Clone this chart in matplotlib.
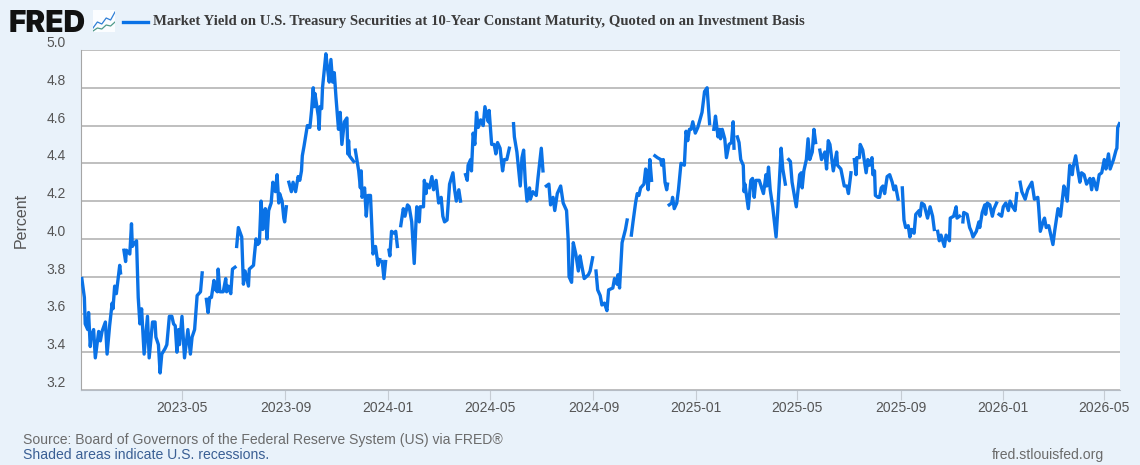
import numpy as np
import pandas as pd
import matplotlib
matplotlib.use("Agg")
from matplotlib import pyplot as plt
import matplotlib.dates as mdates

nan = float("nan")

# days since 2023-01-01, one line per unbroken stretch of the series
days_2023 = [
    1, 4, 5, 8, 9, 11, 12, 15, 17, 21, 23, 25, 29, 31, 34, 37, 38, 40, 42, 46, 47, nan,
    51, 53, 54, 58, 60, 61, 64, 66, 68, 70, 72, 75, 79, 81, 85, 88, 89, 92, 94, 96, 100, 102, 105, 108, 110, 112, 114, 116, 117, 120, 123, 127, 130, 132, 135, 138, 142, 144, nan,
    149, 151, 153, 155, 158, 160, 162, 163, 165, 169, 172, 173, 175, 178, 180, 183, nan,
    185, 187, 191, 193, 195, 199, 200, 205, 206, 208, 210, 212, 214, 216, 217, 219, 221, 223, 226, 228, 231, 233, 235, 236, 239, 241, 242, 244, nan,
    247, 250, 252, 255, 258, 260, 262, 263, 265, 269, 272, 274, 276, 277, 278, 282, 283, 284, 286, 287, 291, 293, 295, 297, 299, 301, 303, 306, 308, 310, 313, 316, 317, 318, 319, 324, nan,
    326, 330, 332, 333, 334, 337, 339, 341, 344, 347, 350, 353, 355, nan,
    358, 360, 362, nan,
]
yields_2023 = [
    3.79, 3.69, 3.55, 3.52, 3.61, 3.43, 3.48, 3.52, 3.37, 3.51, 3.46, 3.51, 3.56, 3.39, 3.54, 3.66, 3.63, 3.75, 3.71, 3.86, 3.82, nan,
    3.94, 3.88, 3.94, 3.92, 4.08, 3.96, 3.98, 3.99, 3.69, 3.55, 3.63, 3.39, 3.59, 3.37, 3.56, 3.56, 3.48, 3.44, 3.29, 3.39, 3.42, 3.44, 3.59, 3.59, 3.55, 3.54, 3.40, 3.52, 3.44, 3.59, 3.37, 3.52, 3.39, 3.48, 3.52, 3.70, 3.72, 3.82, nan,
    3.68, 3.61, 3.69, 3.69, 3.78, 3.73, 3.72, 3.84, 3.72, 3.72, 3.79, 3.72, 3.75, 3.71, 3.84, 3.85, nan,
    3.96, 4.06, 4.01, 3.76, 3.83, 3.75, 3.84, 3.86, 3.91, 4.00, 3.97, 3.98, 4.20, 4.05, 4.08, 4.16, 4.00, 4.15, 4.19, 4.30, 4.25, 4.34, 4.19, 4.24, 4.20, 4.11, 4.09, 4.17, nan,
    4.30, 4.25, 4.30, 4.25, 4.33, 4.31, 4.36, 4.44, 4.49, 4.60, 4.59, 4.68, 4.80, 4.70, 4.77, 4.65, 4.58, 4.70, 4.69, 4.80, 4.98, 4.90, 4.83, 4.95, 4.83, 4.88, 4.75, 4.58, 4.67, 4.50, 4.62, 4.64, 4.45, 4.52, 4.44, 4.41, nan,
    4.47, 4.36, 4.27, 4.36, 4.22, 4.27, 4.12, 4.23, 4.23, 3.92, 3.96, 3.86, 3.89, nan,
    3.88, 3.79, 3.88, nan,
]

days_2024 = [
    366, 367, 369, 372, 374, 376, nan,
    380, 383, 385, 388, 390, 393, 396, 398, 399, 402, 403, 407, 408, 410, 411, 414, 417, 419, 422, 425, 428, 430, 432, 435, 438, 442, 444, 446, 449, 451, nan,
    457, 459, 460, 463, 464, 466, 468, 470, 472, 475, 478, 480, 484, 485, 488, 491, 493, 495, 498, 501, 503, 506, 509, nan,
    514, 515, 518, 522, 524, 526, 528, 530, 533, 534, 537, 541, 543, 547, 549, nan,
    553, 556, 558, 561, 563, 566, 570, 573, 577, 579, 580, 583, 585, 588, 591, 593, 595, 598, 603, 605, 608, nan,
    612, 614, 617, 619, 622, 625, 627, 632, 634, 637, 638, 640, 643, 647, 649, nan,
    654, 656, 659, 661, 663, 665, 669, 671, 672, 674, 676, 678, nan,
    682, 685, 689, 690, 692, 694, 696, 697, nan,
    699, 702, 703, 705, 708, 710, 713, 717, 719, 721, 723, 725, 727, 730,
]
yields_2024 = [
    3.94, 3.91, 4.04, 4.03, 4.04, 3.96, nan,
    4.07, 4.16, 4.12, 4.18, 4.17, 4.09, 3.87, 4.08, 4.17, 4.09, 4.17, 4.17, 4.31, 4.24, 4.29, 4.27, 4.33, 4.26, 4.31, 4.19, 4.22, 4.12, 4.09, 4.10, 4.29, 4.35, 4.26, 4.20, 4.26, 4.20, nan,
    4.34, 4.31, 4.39, 4.42, 4.36, 4.56, 4.50, 4.67, 4.59, 4.63, 4.60, 4.70, 4.62, 4.68, 4.50, 4.50, 4.45, 4.51, 4.48, 4.36, 4.42, 4.42, 4.48, nan,
    4.61, 4.54, 4.46, 4.28, 4.43, 4.47, 4.30, 4.20, 4.27, 4.21, 4.25, 4.23, 4.32, 4.48, 4.36, nan,
    4.28, 4.29, 4.18, 4.22, 4.15, 4.24, 4.28, 4.19, 4.15, 3.99, 3.80, 3.77, 3.98, 3.92, 3.83, 3.91, 3.86, 3.79, 3.81, 3.83, 3.90, nan,
    3.83, 3.73, 3.70, 3.65, 3.66, 3.62, 3.73, 3.74, 3.79, 3.76, 3.81, 3.74, 3.98, 4.05, 4.10, nan,
    4.02, 4.09, 4.19, 4.24, 4.23, 4.27, 4.29, 4.37, 4.35, 4.26, 4.42, 4.31, nan,
    4.44, 4.43, 4.42, 4.39, 4.42, 4.30, 4.26, 4.29, nan,
    4.18, 4.19, 4.22, 4.16, 4.19, 4.26, 4.40, 4.39, 4.57, 4.52, 4.58, 4.58, 4.62, 4.56,
]

days_2025 = [
    733, 738, 741, 744, 747, nan,
    752, 754, 757, 759, 760, 762, 765, 767, 770, 773, 775, 776, nan,
    780, 782, 784, 787, 788, 789, 793, 796, 798, 800, 802, 806, 811, 814, 815, 817, 819, 822, 826, 828, 832, 834, 837, nan,
    841, 843, 845, 850, 854, 856, 857, 859, 862, 864, 866, 869, 871, 873, nan,
    878, 880, 884, 886, 888, 890, 894, 898, 899, 903, 907, 910, 912, 915, nan,
    919, 921, 922, 925, 926, 929, 933, 935, 937, 940, 941, 943, 944, 947, 949, 951, 953, 955, 958, 961, 964, 966, 968, 971, nan,
    976, 978, 980, 983, 985, 987, 990, 992, 996, 997, 999, 1002, 1006, 1009, 1012, 1014, nan,
    1018, 1020, 1022, 1026, 1028, 1032, 1033, 1037, 1040, 1041, 1044, nan,
    1048, 1049, 1053, 1056, 1058, 1060, 1064, 1067, 1068, 1071, 1074, 1075, 1077, 1080, 1083, 1085, 1088, nan,
    1091, 1094,
]
yields_2025 = [
    4.59, 4.67, 4.78, 4.80, 4.61, nan,
    4.58, 4.65, 4.54, 4.58, 4.53, 4.58, 4.53, 4.43, 4.50, 4.51, 4.62, 4.48, nan,
    4.54, 4.51, 4.42, 4.39, 4.25, 4.29, 4.16, 4.31, 4.32, 4.22, 4.31, 4.31, 4.24, 4.34, 4.28, 4.38, 4.26, 4.17, 4.01, 4.15, 4.48, 4.37, 4.29, nan,
    4.42, 4.41, 4.30, 4.17, 4.34, 4.35, 4.27, 4.36, 4.42, 4.53, 4.42, 4.46, 4.58, 4.51, nan,
    4.47, 4.42, 4.46, 4.37, 4.52, 4.50, 4.36, 4.46, 4.39, 4.37, 4.28, 4.28, 4.24, 4.35, nan,
    4.42, 4.34, 4.43, 4.43, 4.50, 4.47, 4.35, 4.42, 4.39, 4.43, 4.34, 4.36, 4.23, 4.22, 4.22, 4.27, 4.28, 4.24, 4.33, 4.34, 4.30, 4.26, 4.28, 4.21, nan,
    4.27, 4.10, 4.06, 4.07, 4.01, 4.05, 4.03, 4.13, 4.15, 4.12, 4.19, 4.18, 4.11, 4.17, 4.12, 4.05, nan,
    4.04, 3.99, 4.02, 3.96, 4.02, 3.99, 4.11, 4.12, 4.17, 4.11, 4.12, nan,
    4.09, 4.14, 4.13, 4.06, 4.04, 4.01, 4.04, 4.09, 4.06, 4.14, 4.18, 4.13, 4.19, 4.18, 4.12, 4.16, 4.19, nan,
    4.13, 4.12,
]

days_2026 = [
    1096, 1099, 1102, 1104, 1107, 1110, 1112, nan,
    1116, 1118, 1122, 1125, 1130, 1133, 1137, 1138, 1140, 1144, 1145, 1147, 1150, 1152, 1155, 1157, 1161, 1164, 1168, 1169, 1172, 1175, 1178, 1179, 1182, 1184, 1187, 1189, 1192, 1195, 1199, 1201, 1203, 1207, 1210, 1213, 1216, 1218, 1221, 1223, 1227, 1230, 1231, 1232, 1234,
]
yields_2026 = [
    4.17, 4.19, 4.15, 4.20, 4.17, 4.15, 4.24, nan,
    4.30, 4.25, 4.21, 4.26, 4.30, 4.21, 4.22, 4.17, 4.04, 4.10, 4.11, 4.06, 4.07, 4.03, 3.97, 4.04, 4.16, 4.12, 4.28, 4.27, 4.20, 4.39, 4.34, 4.38, 4.44, 4.38, 4.30, 4.35, 4.34, 4.29, 4.32, 4.26, 4.32, 4.26, 4.34, 4.35, 4.42, 4.37, 4.45, 4.37, 4.42, 4.47, 4.48, 4.59, 4.61,
]

days = days_2023 + days_2024 + days_2025 + days_2026
yields = yields_2023 + yields_2024 + yields_2025 + yields_2026
assert len(days) == len(yields), (len(days), len(yields))

y_ticks = [3.2, 3.4, 3.6, 3.8, 4.0, 4.2, 4.4, 4.6, 4.8, 5.0]
x_tick_labels = ["2023-05", "2023-09", "2024-01", "2024-05", "2024-09", "2025-01",
                 "2025-05", "2025-09", "2026-01", "2026-05"]

series_name = "Market Yield on U.S. Treasury Securities at 10-Year Constant Maturity, Quoted on an Investment Basis"
source_text = "Source: Board of Governors of the Federal Reserve System (US) via FRED\u00ae"
shade_text = "Shaded areas indicate U.S. recessions."

W, H = 1140, 465
BG = "#e9f2fa"
BLUE = "#0a72e6"

plt.rcParams["font.family"] = ["Liberation Sans", "DejaVu Sans"]

fig = plt.figure(figsize=(W / 100, H / 100), dpi=100, facecolor=BG)
ax = fig.add_axes([81 / W, 1 - 390 / H, (1120 - 81) / W, 340 / H], facecolor="white")

start = mdates.date2num(pd.Timestamp("2023-01-01"))
x = start + np.array(days, dtype=float)
ax.plot(x, yields, color=BLUE, lw=2.4, solid_joinstyle="round", zorder=3)

ax.set_xlim(start, start + 1234.7)
ax.set_ylim(3.2, 5.0)

ax.set_yticks(y_ticks)
ax.set_yticklabels([f"{v:.1f}" for v in y_ticks], va="bottom")
ax.set_xticks([mdates.date2num(pd.Timestamp(d + "-01")) for d in x_tick_labels])
ax.set_xticklabels(x_tick_labels)
ax.tick_params(axis="y", length=0, pad=11, labelsize=10, labelcolor="#555555")
ax.tick_params(axis="x", length=7, width=0.8, color="#c5ccd3", pad=1, labelsize=10, labelcolor="#555555")
ax.grid(axis="y", color="#bfbfbf", lw=1.4)
ax.set_axisbelow(True)
for side in ["top", "right"]:
    ax.spines[side].set_visible(False)
ax.spines["left"].set_color("#a6a6a6")
ax.spines["bottom"].set_color("#b5bcc4")
ax.spines["left"].set_linewidth(0.8)
ax.spines["bottom"].set_linewidth(0.8)

fig.text(21 / W, 1 - 220 / H, "Percent", rotation=90, ha="center", va="center", fontsize=11.5, color="#555555")

# header
fig.text(9 / W, 1 - 32 / H, "FRED", family="Inter", weight="black", fontsize=21.5, color="#111111", va="baseline")
fig.add_artist(plt.Line2D([123 / W, 148 / W], [1 - 22 / H, 1 - 22 / H], color=BLUE, lw=2.4))
fig.text(153 / W, 1 - 21 / H, series_name, family="Liberation Serif", weight="bold", fontsize=10.6, color="#3c3c3c", va="center")

# little chart icon next to the logo
icon = fig.add_axes([93 / W, 1 - 32 / H, 22 / W, 22 / H], facecolor="#fbfdff")
icon.plot([0, 2, 4, 6, 8, 10], [2, 5, 4, 7, 6, 10], color="#2f7fd6", lw=0.9)
icon.plot([0, 2, 4, 6, 8, 10], [0.5, 2, 1.5, 3.5, 3, 5], color="#4f9a8a", lw=0.9)
icon.set_xlim(0, 10)
icon.set_ylim(0, 11)
icon.set_xticks([])
icon.set_yticks([])
for spine in icon.spines.values():
    spine.set_visible(False)

# footer
fig.text(23 / W, 1 - 440 / H, source_text, fontsize=10.05, color="#6b6b6b", va="center")
fig.text(23 / W, 1 - 455 / H, shade_text, fontsize=10.05, color="#3a5f94", va="center")
fig.text(1104 / W, 1 - 455 / H, "fred.stlouisfed.org", fontsize=10.05, color="#6b6b6b", va="center", ha="right")

fig.savefig("out.png", dpi=100, facecolor=BG)
